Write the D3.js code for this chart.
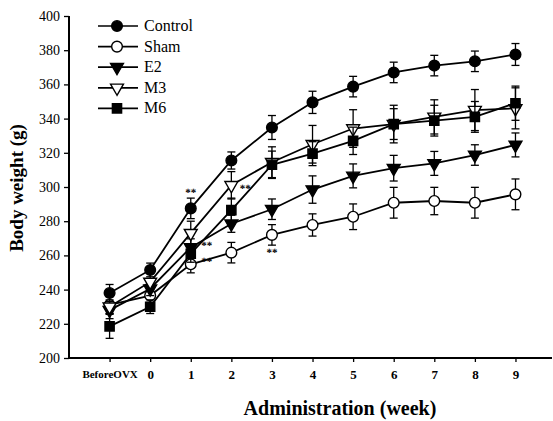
<!DOCTYPE html>
<html>
<head>
<meta charset="utf-8">
<script src="https://cdn.jsdelivr.net/npm/d3@7"></script>
<style>
  body { margin: 0; background: #fff; }
  svg { display: block; font-family: "Liberation Serif", "Times New Roman", serif; }
</style>
</head>
<body>
<svg id="chart"></svg>
<script>
var weeks = ["BeforeOVX", "0", "1", "2", "3", "4", "5", "6", "7", "8", "9"];
var seriesNames = ["Control", "Sham", "E2", "M3", "M6"];

var controlVals = [238, 251.5, 287.5, 315.5, 334.8, 349.5, 358.7, 367, 371, 373.5, 377.5];
var shamVals    = [231, 236.5, 254.8, 261.6, 272, 277.8, 282.6, 290.8, 291.8, 290.8, 295.7];
var e2Vals      = [228, 240.5, 264.7, 278.5, 287, 298.5, 306.5, 311, 313.8, 318.7, 324.6];
var m3Vals      = [230, 244.5, 273, 301, 314.5, 325, 334.2, 336.8, 341, 345, 346];
var m6Vals      = [218.5, 230, 261, 286.5, 313, 319.5, 327, 336.8, 338.8, 341, 349];

var controlErr = [5, 4, 6, 5, 7, 6.5, 6, 6, 6, 6, 6.4];
var shamErr    = [5, 4, 5, 6, 6, 6.5, 7.5, 9, 8, 9, 9];
var e2Err      = [5, 4, 5, 5, 6, 8, 7, 7.5, 7, 6, 7];
var m3Err      = [4, 5, 7, 8, 9, 11, 11, 11, 10, 12, 12];
var m6Err      = [7, 4, 5, 7, 8, 7, 8, 9, 9, 9, 10];

var yTicks = [200, 220, 240, 260, 280, 300, 320, 340, 360, 380, 400];

// "**" marks: [series, week index, dx, dy]
var starMarks = [["Control", 2, 0, -17], ["M3", 3, 14, 2], ["E2", 2, 16, -3], ["Sham", 2, 16, -4], ["Sham", 4, 0, 16]];

var width = 553, height = 421;
var values = [controlVals, shamVals, e2Vals, m3Vals, m6Vals];
var errors = [controlErr, shamErr, e2Err, m3Err, m6Err];
var series = seriesNames.map(function(name, s) {
    return {
        name: name,
        points: values[s].map(function(v, i) {
            return {i: i, v: v, e: errors[s][i]};
        })
    };
});

var svg = d3.select("#chart")
    .attr("width", width)
    .attr("height", height);

var x = d3.scaleLinear()
    .domain([-1, 10.9])
    .range([69, 552]);
var y = d3.scaleLinear()
    .domain([200, 400])
    .range([358, 16]);

// marker shapes
var shapes = {
    "Control": {type: d3.symbolCircle, size: 90, fill: "#000", rot: 0},
    "Sham":    {type: d3.symbolCircle, size: 90, fill: "#fff", rot: 0},
    "E2":      {type: d3.symbolTriangle, size: 72, fill: "#000", rot: 180},
    "M3":      {type: d3.symbolTriangle, size: 72, fill: "#fff", rot: 180},
    "M6":      {type: d3.symbolSquare, size: 85, fill: "#000", rot: 0}
};

// axes
var yAxis = svg.append("g")
    .attr("transform", "translate(" + x(-1) + ",0)")
    .call(d3.axisLeft(y).tickValues(yTicks).tickSize(5).tickPadding(4));
yAxis.select(".domain").attr("stroke-width", 2).attr("d", "M0," + y(200) + "V" + y(400));
yAxis.selectAll("line").attr("stroke-width", 1.3);
yAxis.selectAll("text").attr("font-size", 14).attr("font-family", "Liberation Serif").attr("fill", "#000");

var xAxis = svg.append("g")
    .attr("transform", "translate(0," + y(200) + ")")
    .call(d3.axisBottom(x).tickValues(d3.range(weeks.length))
        .tickFormat(function(d) { return weeks[d]; })
        .tickSize(4).tickPadding(8));
xAxis.select(".domain").attr("stroke-width", 2).attr("d", "M" + x(-1) + ",0H" + x(10.9));
xAxis.selectAll("line").attr("stroke-width", 1.3);
xAxis.selectAll("text")
    .attr("font-size", function(d) { return d === 0 ? 11 : 13; })
    .attr("font-weight", "bold")
    .attr("font-family", "Liberation Serif")
    .attr("fill", "#000");

// axis titles
svg.append("text")
    .attr("x", 340)
    .attr("y", 415)
    .attr("text-anchor", "middle")
    .attr("font-size", 20)
    .attr("font-weight", "bold")
    .text("Administration (week)");

svg.append("text")
    .attr("transform", "translate(23,188) rotate(-90)")
    .attr("text-anchor", "middle")
    .attr("font-size", 19)
    .attr("font-weight", "bold")
    .text("Body weight (g)");

var line = d3.line()
    .x(function(d) { return x(d.i); })
    .y(function(d) { return y(d.v); });

var groups = svg.selectAll("g.series")
    .data(series)
    .enter().append("g")
        .attr("class", "series");

groups.append("path")
    .attr("d", function(d) { return line(d.points); })
    .attr("fill", "none")
    .attr("stroke", "#000")
    .attr("stroke-width", 1.8);

// error bars
var bars = groups.selectAll("g.err")
    .data(function(d) { return d.points; })
    .enter().append("g")
        .attr("class", "err")
        .attr("stroke", "#000")
        .attr("stroke-width", 1.3);
bars.append("line")
    .attr("x1", function(d) { return x(d.i); })
    .attr("x2", function(d) { return x(d.i); })
    .attr("y1", function(d) { return y(d.v - d.e); })
    .attr("y2", function(d) { return y(d.v + d.e); });
bars.append("line")
    .attr("x1", function(d) { return x(d.i) - 4; })
    .attr("x2", function(d) { return x(d.i) + 4; })
    .attr("y1", function(d) { return y(d.v + d.e); })
    .attr("y2", function(d) { return y(d.v + d.e); });
bars.append("line")
    .attr("x1", function(d) { return x(d.i) - 4; })
    .attr("x2", function(d) { return x(d.i) + 4; })
    .attr("y1", function(d) { return y(d.v - d.e); })
    .attr("y2", function(d) { return y(d.v - d.e); });

// markers
groups.each(function(s) {
    var sh = shapes[s.name];
    d3.select(this).selectAll("path.mark")
        .data(s.points)
        .enter().append("path")
            .attr("class", "mark")
            .attr("d", d3.symbol().type(sh.type).size(sh.size))
            .attr("transform", function(d) {
                return "translate(" + x(d.i) + "," + y(d.v) + ") rotate(" + sh.rot + ")";
            })
            .attr("fill", sh.fill)
            .attr("stroke", "#000")
            .attr("stroke-width", 1.4);
});

// significance marks
svg.selectAll("text.star")
    .data(starMarks)
    .enter().append("text")
        .attr("class", "star")
        .attr("x", function(d) { return x(d[1]) + d[2]; })
        .attr("y", function(d) {
            var s = seriesNames.indexOf(d[0]);
            return y(values[s][d[1]]) + d[3] + 5;
        })
        .attr("text-anchor", "middle")
        .attr("font-size", 11)
        .attr("font-weight", "bold")
        .attr("fill", "#000")
        .style("text-rendering", "geometricPrecision")
        .text("**");

// legend
var legend = svg.append("g")
    .attr("transform", "translate(98,26)");
var items = legend.selectAll("g")
    .data(seriesNames)
    .enter().append("g")
        .attr("transform", function(d, i) { return "translate(0," + (i * 20.6) + ")"; });
items.append("line")
    .attr("x1", 0).attr("x2", 40)
    .attr("stroke", "#000")
    .attr("stroke-width", 1.7);
items.append("path")
    .attr("d", function(d) { return d3.symbol().type(shapes[d].type).size(shapes[d].size)(); })
    .attr("transform", function(d) { return "translate(19,0) rotate(" + shapes[d].rot + ")"; })
    .attr("fill", function(d) { return shapes[d].fill; })
    .attr("stroke", "#000")
    .attr("stroke-width", 1.4);
items.append("text")
    .attr("x", 46)
    .attr("y", 5)
    .attr("font-size", 16)
    .text(function(d) { return d; });
</script>
</body>
</html>
